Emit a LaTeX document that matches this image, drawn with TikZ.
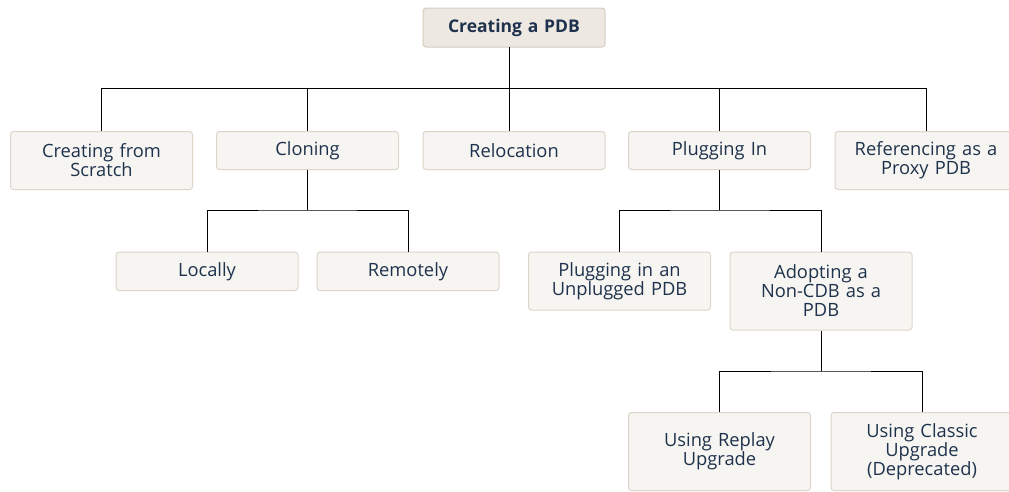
\documentclass[tikz,border=0pt]{standalone}
\usepackage{fontspec}
\setmainfont{Open Sans}
\usetikzlibrary{calc}

\definecolor{inktext}{RGB}{31,50,77}
\definecolor{rootfill}{RGB}{237,232,226}
\definecolor{rootline}{RGB}{214,204,192}
\definecolor{boxfill}{RGB}{246,245,241}
\definecolor{boxline}{RGB}{221,213,202}

\tikzset{
	pdbbox/.style={draw=boxline, fill=boxfill, rounded corners=3pt, line width=1pt,
		minimum width=182pt, text width=178pt, align=center, anchor=north,
		text=inktext, font=\fontsize{18.3}{19}\selectfont, inner sep=0pt},
	rootbox/.style={pdbbox, draw=rootline, fill=rootfill, anchor=center,
		font=\fontsize{17.5}{19}\selectfont\bfseries},
	link/.style={line width=1pt, black}
}

\begin{document}
\begin{tikzpicture}[x=1pt,y=-1pt]
	
	\useasboundingbox (0,0) rectangle (1009,491);
	
	%root
	\node[rootbox, minimum height=39pt] (root) at (514,27.5) {Creating a PDB};
	\coordinate (trunk) at (509,47);
	
	%first row
	\node[pdbbox, minimum height=58pt] (scratch) at (101.5,131) {Creating from\\Scratch};
	\node[pdbbox, minimum height=38pt] (clone)   at (307.5,131) {Cloning};
	\node[pdbbox, minimum height=38pt] (reloc)   at (514,131)   {Relocation};
	\node[pdbbox, minimum height=38pt] (plug)    at (719.5,131) {Plugging In};
	\node[pdbbox, minimum height=58pt] (proxy)   at (926,131)   {Referencing as a\\Proxy PDB};
	
	%second row
	\node[pdbbox, minimum height=38.5pt] (local)  at (207,251.5)   {Locally};
	\node[pdbbox, minimum height=38.5pt] (remote) at (408,251.5)   {Remotely};
	\node[pdbbox, minimum height=58pt]   (unplug) at (619.5,251.5) {Plugging in an\\Unplugged PDB};
	\node[pdbbox, minimum height=78pt]   (adopt)  at (821,251.5)   {Adopting a\\Non-CDB as a\\PDB};
	
	%third row
	\node[pdbbox, minimum height=78pt] (replay)  at (719.5,412) {Using Replay\\Upgrade};
	\node[pdbbox, minimum height=78pt] (classic) at (922,412)   {Using Classic\\Upgrade\\(Deprecated)};
	
	%root links
	\coordinate (bus1) at (509,88);
	\draw[link] (trunk) -- (bus1);
	\draw[link] (scratch.north) -- (scratch.north |- bus1) -- (proxy.north |- bus1) -- (proxy.north);
	\draw[link] (bus1) -- (bus1 |- reloc.north);
	\draw[link] (clone.north) -- (clone.north |- bus1);
	\draw[link] (plug.north) -- (plug.north |- bus1);
	
	%cloning links
	\draw[link] (clone.south) -- ++(0,40) coordinate (bus2);
	\draw[link] (local.north) |- (bus2) -| (remote.north);
	
	%plugging links
	\draw[link] (plug.south) -- ++(0,40) coordinate (bus3);
	\draw[link] (unplug.north) |- (bus3) -| (adopt.north);
	
	%adopting links
	\draw[link] (adopt.south) -- ++(0,40.5) coordinate (bus4);
	\draw[link] (replay.north) |- (bus4) -| (classic.north);
	
\end{tikzpicture}
\end{document}
